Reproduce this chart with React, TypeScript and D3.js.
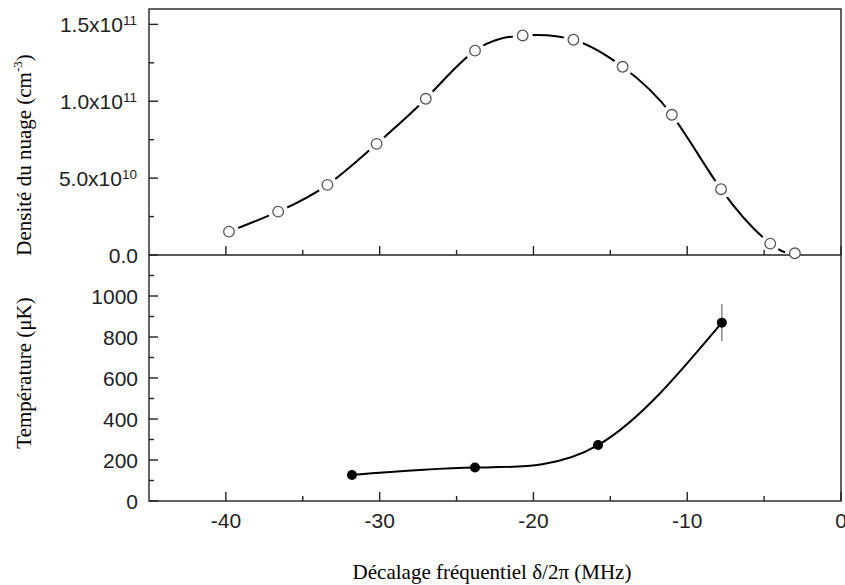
import React from "react";
import * as d3 from "d3";

// ---- data ----
const densityX = [-39.8, -36.6, -33.4, -30.2, -27.0, -23.8, -20.7, -17.4, -14.2, -11.0, -7.8, -4.6, -3.0];
const densityY = [1.52e10, 2.82e10, 4.56e10, 7.23e10, 1.016e11, 1.329e11, 1.428e11, 1.40e11, 1.224e11, 9.12e10, 4.28e10, 7.4e9, 1.1e9];
const tempX = [-31.8, -23.8, -15.8, -7.75];
const tempY = [127, 163, 273, 870];
const tempErr = [0, 0, 0, 90];
const xTicks = [-40, -30, -20, -10, 0];
const xMinorTicks = [-35, -25, -15, -5];
const topTicks = [0, 5e10, 1e11, 1.5e11];
const topMinorTicks = [2.5e10, 7.5e10, 1.25e11];
const botTicks = [0, 200, 400, 600, 800, 1000];
const botMinorTicks = [100, 300, 500, 700, 900, 1100];

const W = 845, H = 585;
const L = 149, R = 841, T = 9, M = 255, B = 501;

const sans = "'Liberation Sans', Arial, sans-serif";
const serif = "'Liberation Serif', 'Times New Roman', serif";

function fmtTop(v: number) {
  if (v === 0) return { m: "0.0", e: "" };
  const e = Math.floor(Math.log10(v));
  const m = v / Math.pow(10, e);
  return { m: m.toFixed(1) + "x10", e: String(e) };
}

export default function App() {
  const x = d3.scaleLinear().domain([-45, 0]).range([L, R]);
  const yTop = d3.scaleLinear().domain([0, 1.6e11]).range([M, T]);
  const yBot = d3.scaleLinear().domain([0, 1200]).range([B, M]);

  const topData = densityX.map((d, i) => [d, densityY[i]] as [number, number]);
  const botData = tempX.map((d, i) => [d, tempY[i]] as [number, number]);

  const topLine = d3.line<[number, number]>().x(d => x(d[0])).y(d => yTop(d[1])).curve(d3.curveNatural)(topData) || "";
  const botLine = d3.line<[number, number]>().x(d => x(d[0])).y(d => yBot(d[1])).curve(d3.curveNatural)(botData) || "";

  const axisStroke = "#222";
  const aw = 1.4;
  const fs = 21;

  return (
    <svg width={W} height={H} style={{ position: "absolute", left: 0, top: 0, background: "#fff" }}>
      <rect x={0} y={0} width={W} height={H} fill="#fff" />
      {/* top curve */}
      <path d={topLine} fill="none" stroke="#000" strokeWidth={2} />
      {topData.map((d, i) => (
        <circle key={"h" + i} cx={x(d[0])} cy={yTop(d[1])} r={10} fill="#fff" />
      ))}
      {/* bottom curve */}
      <path d={botLine} fill="none" stroke="#000" strokeWidth={2} />
      {botData.map((d, i) =>
        tempErr[i] > 0 ? (
          <line key={"e" + i} x1={x(d[0])} x2={x(d[0])} y1={yBot(d[1] - tempErr[i])} y2={yBot(d[1] + tempErr[i])} stroke="#777" strokeWidth={1.3} />
        ) : null
      )}
      {botData.map((d, i) => (
        <circle key={"b" + i} cx={x(d[0])} cy={yBot(d[1])} r={5} fill="#000" />
      ))}

      {/* frames */}
      <rect x={L} y={T} width={R - L} height={B - T} fill="none" stroke={axisStroke} strokeWidth={aw} />
      <line x1={L} x2={R} y1={M} y2={M} stroke={axisStroke} strokeWidth={aw} />

      {/* x ticks top panel (bottom axis of top panel) */}
      {xTicks.map(t => (
        <line key={"xt" + t} x1={x(t)} x2={x(t)} y1={M} y2={M - 9} stroke={axisStroke} strokeWidth={aw} />
      ))}
      {xMinorTicks.map(t => (
        <line key={"xmt" + t} x1={x(t)} x2={x(t)} y1={M} y2={M - 5} stroke={axisStroke} strokeWidth={aw} />
      ))}
      {/* x ticks bottom panel */}
      {xTicks.map(t => (
        <line key={"xb" + t} x1={x(t)} x2={x(t)} y1={B} y2={B - 9} stroke={axisStroke} strokeWidth={aw} />
      ))}
      {xMinorTicks.map(t => (
        <line key={"xmb" + t} x1={x(t)} x2={x(t)} y1={B} y2={B - 5} stroke={axisStroke} strokeWidth={aw} />
      ))}
      {xTicks.map(t => (
        <text key={"xl" + t} x={x(t)} y={528} textAnchor="middle" fontFamily={sans} fontSize={fs} fill="#222">
          {t}
        </text>
      ))}

      {/* top y ticks */}
      {topTicks.map(t => (
        <line key={"yt" + t} x1={L} x2={L + 9} y1={yTop(t)} y2={yTop(t)} stroke={axisStroke} strokeWidth={aw} />
      ))}
      {topMinorTicks.map(t => (
        <line key={"ymt" + t} x1={L} x2={L + 5} y1={yTop(t)} y2={yTop(t)} stroke={axisStroke} strokeWidth={aw} />
      ))}
      {topTicks.map(t => {
        const f = fmtTop(t);
        return (
          <text key={"ytl" + t} x={f.e ? 137 : 138} y={yTop(t) + 8} textAnchor="end" fontFamily={sans} fontSize={fs} fill="#222">
            {f.m}
            {f.e ? (
              <tspan fontSize={13.5} dy={-7}>{f.e}</tspan>
            ) : null}
          </text>
        );
      })}

      {/* bottom y ticks */}
      {botTicks.map(t => (
        <line key={"yb" + t} x1={L} x2={L + 9} y1={yBot(t)} y2={yBot(t)} stroke={axisStroke} strokeWidth={aw} />
      ))}
      {botMinorTicks.map(t => (
        <line key={"ymb" + t} x1={L} x2={L + 5} y1={yBot(t)} y2={yBot(t)} stroke={axisStroke} strokeWidth={aw} />
      ))}
      {botTicks.map(t => (
        <text key={"ybl" + t} x={138} y={yBot(t) + 7.5} textAnchor="end" fontFamily={sans} fontSize={fs} fill="#222">
          {t}
        </text>
      ))}

      {/* markers top (over axis) */}
      {topData.map((d, i) => (
        <circle key={"c" + i} cx={x(d[0])} cy={yTop(d[1])} r={5.3} fill="#fff" stroke="#555" strokeWidth={1.3} />
      ))}

      {/* axis titles */}
      <text transform={`translate(31,155) rotate(-90)`} textAnchor="middle" fontFamily={serif} fontSize={21} fill="#000">
        Densité du nuage (cm<tspan fontSize={13} dy={-9}>-3</tspan><tspan dy={9}>)</tspan>
      </text>
      <text transform={`translate(31,373) rotate(-90)`} textAnchor="middle" fontFamily={serif} fontSize={21} fill="#000">
        Température (μK)
      </text>
      <text x={492} y={579} textAnchor="middle" fontFamily={serif} fontSize={21} fill="#000">
        Décalage fréquentiel δ/2π (MHz)
      </text>
    </svg>
  );
}
